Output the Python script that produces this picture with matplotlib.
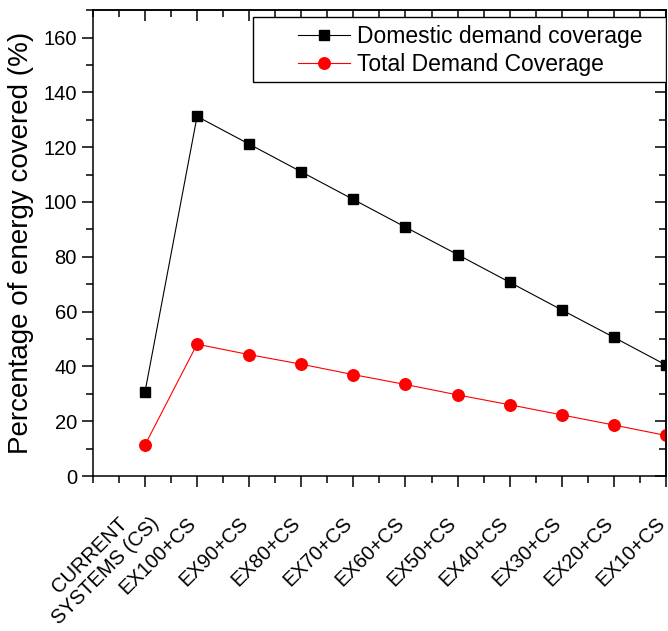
import numpy as np
import matplotlib.pyplot as plt
import matplotlib.transforms as mtransforms
from matplotlib.patches import Rectangle

plt.rcParams["font.family"] = ["Liberation Sans", "DejaVu Sans"]

categories = ["CURRENT\nSYSTEMS (CS)", "EX100+CS", "EX90+CS", "EX80+CS", "EX70+CS",
              "EX60+CS", "EX50+CS", "EX40+CS", "EX30+CS", "EX20+CS", "EX10+CS"]
domestic = [30.6, 131.2, 121.1, 111.0, 100.9, 90.8, 80.8, 70.7, 60.6, 50.6, 40.5]
total = [11.3, 48.1, 44.3, 40.8, 37.0, 33.4, 29.6, 26.0, 22.3, 18.6, 14.8]

x = np.arange(1, len(categories) + 1)

fig = plt.figure(figsize=(6.68, 6.31), dpi=100)
ax = fig.add_axes([0.139, 0.2456, 0.858, 0.7384])

ax.plot(x, domestic, color="black", lw=0.8, marker="s", ms=7.5,
        mfc="black", mec="black", label="Domestic demand coverage")
ax.plot(x, total, color="red", lw=0.8, marker="o", ms=8.3,
        mfc="red", mec="red", label="Total Demand Coverage")

ax.set_xlim(0, 11)
ax.set_ylim(0, 170)
ax.set_yticks(np.arange(0, 161, 20))
ax.set_yticks(np.arange(0, 171, 10), minor=True)
ax.set_xticks(x)
ax.set_xticks(np.arange(0, 11.01, 0.5), minor=True)
ax.set_xticklabels(categories, rotation=45, ha="right", va="center",
                   rotation_mode="anchor", multialignment="center", fontsize=14.5)
ax.tick_params(axis="both", which="major", direction="out", length=8, width=1.1,
               labelsize=14.5)
ax.tick_params(axis="both", which="minor", direction="out", length=5, width=1.1)
ax.tick_params(axis="x", which="major", pad=24)

# nudge rotated labels a little left so the last one stays inside the figure;
# the two-line label goes up a bit so it does not run off the bottom
for i, lbl in enumerate(ax.get_xticklabels()):
    dx, dy = (3, 8) if i == 0 else (-4, 0)
    shift = mtransforms.ScaledTranslation(dx / 100, dy / 100, fig.dpi_scale_trans)
    lbl.set_transform(lbl.get_transform() + shift)

for s in ax.spines.values():
    s.set_linewidth(1.1)

# mirrored ticks on top/right, pointing inward
top = ax.secondary_xaxis("top")
top.set_xticks(x)
top.set_xticks(np.arange(0, 11.01, 0.5), minor=True)
top.tick_params(which="major", direction="in", length=8, width=1.1, labeltop=False)
top.tick_params(which="minor", direction="in", length=5, width=1.1)
right = ax.secondary_yaxis("right")
right.set_yticks(np.arange(0, 161, 20))
right.set_yticks(np.arange(0, 171, 10), minor=True)
right.tick_params(which="major", direction="in", length=8, width=1.1, labelright=False)
right.tick_params(which="minor", direction="in", length=5, width=1.1)
for sec in (top, right):
    for s in sec.spines.values():
        s.set_linewidth(1.1)

ax.set_ylabel("Percentage of energy covered (%)", fontsize=20, labelpad=7)

# legend frame drawn separately so the handles sit inset like the original
ax.add_patch(Rectangle((0.279, 0.8455), 0.721, 0.1395, transform=ax.transAxes,
                       facecolor="white", edgecolor="black", lw=1.0, zorder=4))
leg = ax.legend(loc="upper left", bbox_to_anchor=(0.358, 0.968), borderaxespad=0,
                fontsize=16.5, frameon=False, handlelength=2.27,
                handletextpad=0.3, labelspacing=0.22, borderpad=0)
leg.set_zorder(5)

plt.savefig("out.png", dpi=100)
